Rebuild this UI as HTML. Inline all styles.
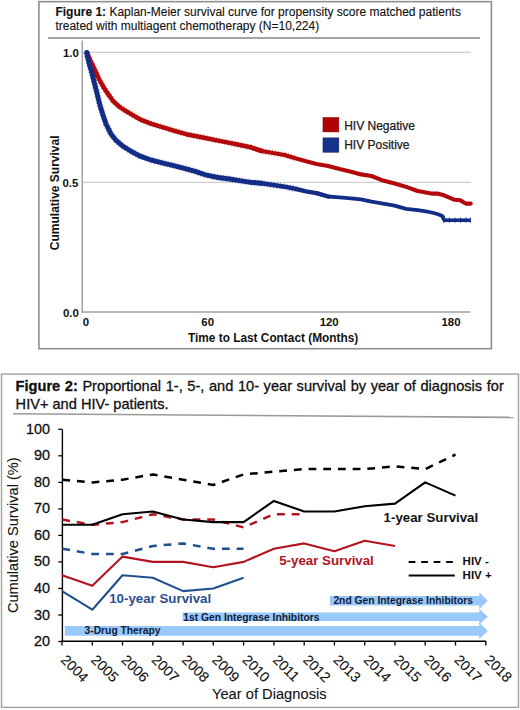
<!DOCTYPE html>
<html><head><meta charset="utf-8"><title>Figures</title>
<style>
html,body{margin:0;padding:0;background:#fff;}
body{width:520px;height:710px;overflow:hidden;font-family:'Liberation Sans', sans-serif;}
svg{display:block;}
</style></head>
<body>
<svg width="520" height="710" viewBox="0 0 520 710">
<rect x="38.9" y="1.65" width="452.5" height="347.05" fill="none" stroke="#8e8e8e" stroke-width="1.6"/>
<line x1="48" y1="37.9" x2="480" y2="37.9" stroke="#a3a3a3" stroke-width="2"/>
<line x1="82" y1="52.4" x2="471" y2="52.4" stroke="#cfcfcf" stroke-width="1.4"/>
<line x1="82" y1="182.4" x2="471" y2="182.4" stroke="#cfcfcf" stroke-width="1.4"/>
<line x1="82.3" y1="40.4" x2="82.3" y2="312.5" stroke="#a0a0a0" stroke-width="1.5"/>
<line x1="81.6" y1="311.9" x2="470.5" y2="311.9" stroke="#a0a0a0" stroke-width="1.5"/>
<polyline points="86.8,52.5 90.4,60.7 94.5,69.1 99.2,79.5 103.4,86.9 108.0,93.9 112.9,100.8 118.8,106.3 125.0,110.5 131.9,114.6 140.5,119.6 151.5,123.8 163.1,127.3 174.6,130.8 186.1,134.2 196.5,136.3 206.5,138.3 218.1,140.6 229.6,142.9 241.1,145.2 250.5,147.2 261.5,151.0 273.1,152.9 284.6,155.0 296.1,158.5" fill="none" stroke="#B3090B" stroke-width="6.2" stroke-dasharray="1 2.2" opacity="0.45"/>
<polyline points="86.8,52.5 87.4,56.5 89.5,64.9 92.0,73.4 94.1,81.8 96.3,90.3 98.3,98.7 100.4,107.0 102.8,114.4 106.0,124.0 110.8,133.7 116.1,140.4 122.8,146.2 130.5,151.0 139.5,155.9 151.5,160.2 163.1,163.1 174.6,165.9 186.1,168.8 196.0,171.6 206.5,175.2 218.1,177.5 229.6,179.0 241.1,180.9 251.0,182.4 261.5,183.3 273.1,185.0 284.6,186.7 296.1,189.0" fill="none" stroke="#132D86" stroke-width="6.6" stroke-dasharray="1 2.2" opacity="0.45"/>
<polyline points="86.8,52.5 90.4,60.7 94.5,69.1 99.2,79.5 103.4,86.9 108.0,93.9 112.9,100.8 118.8,106.3 125.0,110.5 131.9,114.6 140.5,119.6 151.5,123.8 163.1,127.3 174.6,130.8 186.1,134.2 196.5,136.3 206.5,138.3 218.1,140.6 229.6,142.9 241.1,145.2 250.5,147.2 261.5,151.0" fill="none" stroke="#B3090B" stroke-width="4.5" stroke-linejoin="round" stroke-linecap="round"/>
<polyline points="250.5,147.2 261.5,151.0 273.1,152.9 284.6,155.0 296.1,158.5 306.0,161.3 316.5,164.0 328.1,166.0 339.6,169.1 351.1,171.7 361.0,174.4 371.5,176.0 383.1,180.6 394.6,183.5 406.1,186.9 417.7,191.0 425.8,192.5 431.5,193.6 437.3,193.6 443.1,195.0 448.8,197.3 454.6,199.8 460.4,200.2 463.8,202.5 466.1,203.6 470.7,203.6" fill="none" stroke="#B3090B" stroke-width="4.1" stroke-linejoin="round" stroke-linecap="round"/>
<polyline points="86.8,52.5 87.4,56.5 89.5,64.9 92.0,73.4 94.1,81.8 96.3,90.3 98.3,98.7 100.4,107.0 102.8,114.4 106.0,124.0 110.8,133.7 116.1,140.4 122.8,146.2 130.5,151.0 139.5,155.9 151.5,160.2 163.1,163.1 174.6,165.9 186.1,168.8 196.0,171.6 206.5,175.2 218.1,177.5 229.6,179.0 241.1,180.9 251.0,182.4 261.5,183.3" fill="none" stroke="#132D86" stroke-width="4.9" stroke-linejoin="round" stroke-linecap="round"/>
<polyline points="251.0,182.4 261.5,183.3 273.1,185.0 284.6,186.7 296.1,189.0 306.0,191.3 316.5,193.1 328.1,196.5" fill="none" stroke="#132D86" stroke-width="4.4" stroke-linejoin="round" stroke-linecap="round"/>
<polyline points="316.5,193.1 328.1,196.5 339.6,197.4 351.1,198.3 361.0,199.4 371.5,201.7 383.1,203.6 394.6,205.6 406.1,208.8 417.7,210.2 425.8,211.4 431.5,212.5 437.3,214.0 441.9,215.8 444.0,219.6" fill="none" stroke="#132D86" stroke-width="3.8" stroke-linejoin="round" stroke-linecap="round"/>
<line x1="443.5" y1="220.2" x2="470.5" y2="220.2" stroke="#132D86" stroke-width="3.6"/>
<line x1="444" y1="215.5" x2="444" y2="222.6" stroke="#132D86" stroke-width="1.6"/>
<line x1="449.5" y1="217.6" x2="449.5" y2="222.8" stroke="#132D86" stroke-width="1.1" opacity="0.8"/>
<line x1="455" y1="217.6" x2="455" y2="222.8" stroke="#132D86" stroke-width="1.1" opacity="0.8"/>
<line x1="460.5" y1="217.6" x2="460.5" y2="222.8" stroke="#132D86" stroke-width="1.1" opacity="0.8"/>
<line x1="466" y1="217.6" x2="466" y2="222.8" stroke="#132D86" stroke-width="1.1" opacity="0.8"/>
<line x1="470.5" y1="217.6" x2="470.5" y2="222.8" stroke="#132D86" stroke-width="1.1" opacity="0.8"/>
<text x="78.8" y="57.3" text-anchor="end" style="font-family:'Liberation Sans', sans-serif;font-weight:bold;font-size:11.4px;fill:#111">1.0</text>
<text x="78.3" y="186.5" text-anchor="end" style="font-family:'Liberation Sans', sans-serif;font-weight:bold;font-size:11.4px;fill:#111">0.5</text>
<text x="78.8" y="316.5" text-anchor="end" style="font-family:'Liberation Sans', sans-serif;font-weight:bold;font-size:11.4px;fill:#111">0.0</text>
<text x="86" y="325.9" text-anchor="middle" style="font-family:'Liberation Sans', sans-serif;font-weight:bold;font-size:11.4px;fill:#111">0</text>
<text x="207.7" y="325.9" text-anchor="middle" style="font-family:'Liberation Sans', sans-serif;font-weight:bold;font-size:11.4px;fill:#111">60</text>
<text x="329.2" y="325.9" text-anchor="middle" style="font-family:'Liberation Sans', sans-serif;font-weight:bold;font-size:11.4px;fill:#111">120</text>
<text x="451" y="325.9" text-anchor="middle" style="font-family:'Liberation Sans', sans-serif;font-weight:bold;font-size:11.4px;fill:#111">180</text>
<text x="188" y="341.8" style="font-family:'Liberation Sans', sans-serif;font-weight:bold;font-size:12px;fill:#111;font-size:11.85px">Time to Last Contact (Months)</text>
<text transform="translate(59,192.8) rotate(-90)" text-anchor="middle" style="font-family:'Liberation Sans', sans-serif;font-weight:bold;font-size:12px;fill:#111">Cumulative Survival</text>
<rect x="323" y="117.6" width="15.8" height="14.3" fill="#B00404" stroke="#8a0000" stroke-width="0.6"/>
<rect x="323" y="137.9" width="15.8" height="14.3" fill="#17338C" stroke="#0c1f60" stroke-width="0.6"/>
<text x="344.2" y="129.7" style="font-family:'Liberation Sans', sans-serif;font-size:12px;fill:#1a1a1a;stroke:#1a1a1a;stroke-width:0.25px">HIV Negative</text>
<text x="344.2" y="148.5" style="font-family:'Liberation Sans', sans-serif;font-size:12px;fill:#1a1a1a;stroke:#1a1a1a;stroke-width:0.25px">HIV Positive</text>
<text x="55.4" y="15.7" style="font-family:'Liberation Sans', sans-serif;font-size:12px;fill:#111;stroke:#111;stroke-width:0.12px"><tspan font-weight="bold">Figure 1:</tspan> Kaplan-Meier survival curve for propensity score matched patients</text>
<text x="55.4" y="30.4" style="font-family:'Liberation Sans', sans-serif;font-size:12px;fill:#111;stroke:#111;stroke-width:0.12px">treated with multiagent chemotherapy (N=10,224)</text>
<rect x="1.5" y="374.1" width="517" height="333.3" fill="none" stroke="#a0a0a0" stroke-width="1.4"/>
<line x1="13" y1="413.8" x2="513.5" y2="417.4" stroke="#9a9a9a" stroke-width="1.6"/>
<text x="15.6" y="390.9" style="font-family:'Liberation Sans', sans-serif;font-size:14px;fill:#111;stroke:#111;stroke-width:0.3px;font-size:14.6px;word-spacing:0.55px"><tspan font-weight="bold">Figure 2:</tspan> Proportional 1-, 5-, and 10- year survival by year of diagnosis for</text>
<text x="15.6" y="409.0" style="font-family:'Liberation Sans', sans-serif;font-size:14px;fill:#111;stroke:#111;stroke-width:0.3px;font-size:14.6px">HIV+ and HIV- patients.</text>
<path d="M330,596.1 L479.3,596.1 L479.3,592.5 L487.8,600.75 L479.3,609.0 L479.3,605.4 L330,605.4 Z" fill="#99C9F8"/>
<path d="M182.5,612.4 L479.3,612.4 L479.3,608.8 L487.8,616.7 L479.3,624.6 L479.3,621.0 L182.5,621.0 Z" fill="#99C9F8"/>
<path d="M64.8,626.0 L479.3,626.0 L479.3,622.6 L487.8,630.9 L479.3,638.9 L479.3,635.8 L64.8,635.8 Z" fill="#99C9F8"/>
<text x="84.5" y="633.8" style="font-family:'Liberation Sans', sans-serif;font-size:10.3px;font-weight:bold;fill:#0f1a3a">3-Drug Therapy</text>
<text x="183.3" y="620.5" style="font-family:'Liberation Sans', sans-serif;font-size:10.3px;font-weight:bold;fill:#0f1a3a">1st Gen Integrase Inhibitors</text>
<text x="333.4" y="604.3" style="font-family:'Liberation Sans', sans-serif;font-size:10.3px;font-weight:bold;fill:#0f1a3a">2nd Gen Integrase Inhibitors</text>
<line x1="62.4" y1="429.3" x2="62.4" y2="641.8" stroke="#000" stroke-width="1.4"/>
<line x1="61.3" y1="641.3" x2="486" y2="641.3" stroke="#000" stroke-width="1.5"/>
<line x1="58.3" y1="429.3" x2="62" y2="429.3" stroke="#000" stroke-width="1.3"/>
<line x1="58.3" y1="455.8" x2="62" y2="455.8" stroke="#000" stroke-width="1.3"/>
<line x1="58.3" y1="482.4" x2="62" y2="482.4" stroke="#000" stroke-width="1.3"/>
<line x1="58.3" y1="508.9" x2="62" y2="508.9" stroke="#000" stroke-width="1.3"/>
<line x1="58.3" y1="535.4" x2="62" y2="535.4" stroke="#000" stroke-width="1.3"/>
<line x1="58.3" y1="561.9" x2="62" y2="561.9" stroke="#000" stroke-width="1.3"/>
<line x1="58.3" y1="588.5" x2="62" y2="588.5" stroke="#000" stroke-width="1.3"/>
<line x1="58.3" y1="615.0" x2="62" y2="615.0" stroke="#000" stroke-width="1.3"/>
<line x1="58.3" y1="641.5" x2="62" y2="641.5" stroke="#000" stroke-width="1.3"/>
<line x1="62.0" y1="641" x2="62.0" y2="645.5" stroke="#000" stroke-width="1.3"/>
<line x1="92.3" y1="641" x2="92.3" y2="645.5" stroke="#000" stroke-width="1.3"/>
<line x1="122.5" y1="641" x2="122.5" y2="645.5" stroke="#000" stroke-width="1.3"/>
<line x1="152.8" y1="641" x2="152.8" y2="645.5" stroke="#000" stroke-width="1.3"/>
<line x1="183.1" y1="641" x2="183.1" y2="645.5" stroke="#000" stroke-width="1.3"/>
<line x1="213.3" y1="641" x2="213.3" y2="645.5" stroke="#000" stroke-width="1.3"/>
<line x1="243.6" y1="641" x2="243.6" y2="645.5" stroke="#000" stroke-width="1.3"/>
<line x1="273.9" y1="641" x2="273.9" y2="645.5" stroke="#000" stroke-width="1.3"/>
<line x1="304.2" y1="641" x2="304.2" y2="645.5" stroke="#000" stroke-width="1.3"/>
<line x1="334.4" y1="641" x2="334.4" y2="645.5" stroke="#000" stroke-width="1.3"/>
<line x1="364.7" y1="641" x2="364.7" y2="645.5" stroke="#000" stroke-width="1.3"/>
<line x1="395.0" y1="641" x2="395.0" y2="645.5" stroke="#000" stroke-width="1.3"/>
<line x1="425.2" y1="641" x2="425.2" y2="645.5" stroke="#000" stroke-width="1.3"/>
<line x1="455.5" y1="641" x2="455.5" y2="645.5" stroke="#000" stroke-width="1.3"/>
<line x1="485.8" y1="641" x2="485.8" y2="645.5" stroke="#000" stroke-width="1.3"/>
<text x="49.9" y="433.8" text-anchor="end" style="font-family:'Liberation Sans', sans-serif;font-size:14px;fill:#111;stroke:#111;stroke-width:0.3px;font-size:14.4px">100</text>
<text x="49.9" y="460.3" text-anchor="end" style="font-family:'Liberation Sans', sans-serif;font-size:14px;fill:#111;stroke:#111;stroke-width:0.3px;font-size:14.4px">90</text>
<text x="49.9" y="486.9" text-anchor="end" style="font-family:'Liberation Sans', sans-serif;font-size:14px;fill:#111;stroke:#111;stroke-width:0.3px;font-size:14.4px">80</text>
<text x="49.9" y="513.4" text-anchor="end" style="font-family:'Liberation Sans', sans-serif;font-size:14px;fill:#111;stroke:#111;stroke-width:0.3px;font-size:14.4px">70</text>
<text x="49.9" y="539.9" text-anchor="end" style="font-family:'Liberation Sans', sans-serif;font-size:14px;fill:#111;stroke:#111;stroke-width:0.3px;font-size:14.4px">60</text>
<text x="49.9" y="566.4" text-anchor="end" style="font-family:'Liberation Sans', sans-serif;font-size:14px;fill:#111;stroke:#111;stroke-width:0.3px;font-size:14.4px">50</text>
<text x="49.9" y="593.0" text-anchor="end" style="font-family:'Liberation Sans', sans-serif;font-size:14px;fill:#111;stroke:#111;stroke-width:0.3px;font-size:14.4px">40</text>
<text x="49.9" y="619.5" text-anchor="end" style="font-family:'Liberation Sans', sans-serif;font-size:14px;fill:#111;stroke:#111;stroke-width:0.3px;font-size:14.4px">30</text>
<text x="49.9" y="646.0" text-anchor="end" style="font-family:'Liberation Sans', sans-serif;font-size:14px;fill:#111;stroke:#111;stroke-width:0.3px;font-size:14.4px">20</text>
<text transform="translate(60.0,660.7) rotate(45)" style="font-family:'Liberation Sans', sans-serif;font-size:14.2px;fill:#111;stroke:#111;stroke-width:0.12px">2004</text>
<text transform="translate(90.3,660.7) rotate(45)" style="font-family:'Liberation Sans', sans-serif;font-size:14.2px;fill:#111;stroke:#111;stroke-width:0.12px">2005</text>
<text transform="translate(120.5,660.7) rotate(45)" style="font-family:'Liberation Sans', sans-serif;font-size:14.2px;fill:#111;stroke:#111;stroke-width:0.12px">2006</text>
<text transform="translate(150.8,660.7) rotate(45)" style="font-family:'Liberation Sans', sans-serif;font-size:14.2px;fill:#111;stroke:#111;stroke-width:0.12px">2007</text>
<text transform="translate(181.1,660.7) rotate(45)" style="font-family:'Liberation Sans', sans-serif;font-size:14.2px;fill:#111;stroke:#111;stroke-width:0.12px">2008</text>
<text transform="translate(211.3,660.7) rotate(45)" style="font-family:'Liberation Sans', sans-serif;font-size:14.2px;fill:#111;stroke:#111;stroke-width:0.12px">2009</text>
<text transform="translate(241.6,660.7) rotate(45)" style="font-family:'Liberation Sans', sans-serif;font-size:14.2px;fill:#111;stroke:#111;stroke-width:0.12px">2010</text>
<text transform="translate(271.9,660.7) rotate(45)" style="font-family:'Liberation Sans', sans-serif;font-size:14.2px;fill:#111;stroke:#111;stroke-width:0.12px">2011</text>
<text transform="translate(302.2,660.7) rotate(45)" style="font-family:'Liberation Sans', sans-serif;font-size:14.2px;fill:#111;stroke:#111;stroke-width:0.12px">2012</text>
<text transform="translate(332.4,660.7) rotate(45)" style="font-family:'Liberation Sans', sans-serif;font-size:14.2px;fill:#111;stroke:#111;stroke-width:0.12px">2013</text>
<text transform="translate(362.7,660.7) rotate(45)" style="font-family:'Liberation Sans', sans-serif;font-size:14.2px;fill:#111;stroke:#111;stroke-width:0.12px">2014</text>
<text transform="translate(393.0,660.7) rotate(45)" style="font-family:'Liberation Sans', sans-serif;font-size:14.2px;fill:#111;stroke:#111;stroke-width:0.12px">2015</text>
<text transform="translate(423.2,660.7) rotate(45)" style="font-family:'Liberation Sans', sans-serif;font-size:14.2px;fill:#111;stroke:#111;stroke-width:0.12px">2016</text>
<text transform="translate(453.5,660.7) rotate(45)" style="font-family:'Liberation Sans', sans-serif;font-size:14.2px;fill:#111;stroke:#111;stroke-width:0.12px">2017</text>
<text transform="translate(483.8,660.7) rotate(45)" style="font-family:'Liberation Sans', sans-serif;font-size:14.2px;fill:#111;stroke:#111;stroke-width:0.12px">2018</text>
<text x="212" y="698.9" style="font-family:'Liberation Sans', sans-serif;font-size:14px;fill:#111;stroke:#111;stroke-width:0.3px;font-size:14.7px;stroke-width:0.1px">Year of Diagnosis</text>
<text transform="translate(18.2,535.2) rotate(-90)" text-anchor="middle" style="font-family:'Liberation Sans', sans-serif;font-size:14px;fill:#111;stroke:#111;stroke-width:0.3px;font-size:14.6px;stroke-width:0.1px">Cumulative Survival (%)</text>
<polyline points="62.0,591.1 92.3,609.7 122.5,575.2 152.8,577.8 183.1,591.1 213.3,588.5 243.6,577.8" fill="none" stroke="#21508F" stroke-width="2.1" stroke-linejoin="round"/>
<polyline points="62.0,548.7 92.3,554.0 122.5,554.0 152.8,546.0 183.1,543.4 213.3,548.7 243.6,548.7" fill="none" stroke="#21508F" stroke-width="2.5" stroke-dasharray="7.8 6.9" stroke-dashoffset="-0.3" stroke-linejoin="round"/>
<polyline points="62.0,575.2 92.3,585.8 122.5,556.6 152.8,561.9 183.1,561.9 213.3,567.2 243.6,561.9 273.9,548.7 304.2,543.4 334.4,551.3 364.7,540.7 395.0,546.0" fill="none" stroke="#B3141F" stroke-width="2.1" stroke-linejoin="round"/>
<polyline points="62.0,519.5 92.3,524.8 122.5,522.1 152.8,514.2 183.1,519.5 213.3,519.5 243.6,527.4 273.9,514.2 304.2,514.2" fill="none" stroke="#B3141F" stroke-width="2.5" stroke-dasharray="7.8 6.9" stroke-dashoffset="-0.3" stroke-linejoin="round"/>
<polyline points="62.0,524.8 92.3,524.8 122.5,514.2 152.8,511.5 183.1,519.5 213.3,522.1 243.6,522.1 273.9,500.9 304.2,511.5 334.4,511.5 364.7,506.2 395.0,503.6 425.2,482.4 455.5,495.6" fill="none" stroke="#000" stroke-width="2.1" stroke-linejoin="round"/>
<polyline points="62.0,479.7 92.3,482.4 122.5,479.7 152.8,474.4 183.1,479.7 213.3,485.0 243.6,474.4 273.9,471.7 304.2,469.1 334.4,469.1 364.7,469.1 395.0,466.4 425.2,469.1 455.5,454.5" fill="none" stroke="#000" stroke-width="2.5" stroke-dasharray="7.8 6.9" stroke-dashoffset="-0.3" stroke-linejoin="round"/>
<text x="383.6" y="521.8" style="font-family:'Liberation Sans', sans-serif;font-size:13.3px;font-weight:bold;fill:#111">1-year Survival</text>
<text x="279.2" y="565" style="font-family:'Liberation Sans', sans-serif;font-size:13.3px;font-weight:bold;fill:#B3141F">5-year Survival</text>
<text x="109.2" y="603.3" style="font-family:'Liberation Sans', sans-serif;font-size:13.3px;font-weight:bold;fill:#2A4E8E">10-year Survival</text>
<line x1="408.7" y1="562.1" x2="453" y2="562.1" stroke="#000" stroke-width="2" stroke-dasharray="6.7 5.8"/>
<line x1="408.7" y1="575.6" x2="454.8" y2="575.6" stroke="#000" stroke-width="2"/>
<text x="462.6" y="565.4" style="font-family:'Liberation Sans', sans-serif;font-size:11.5px;font-weight:bold;fill:#111">HIV -</text>
<text x="462.6" y="579.2" style="font-family:'Liberation Sans', sans-serif;font-size:11.5px;font-weight:bold;fill:#111">HIV +</text>
</svg>
</body></html>
